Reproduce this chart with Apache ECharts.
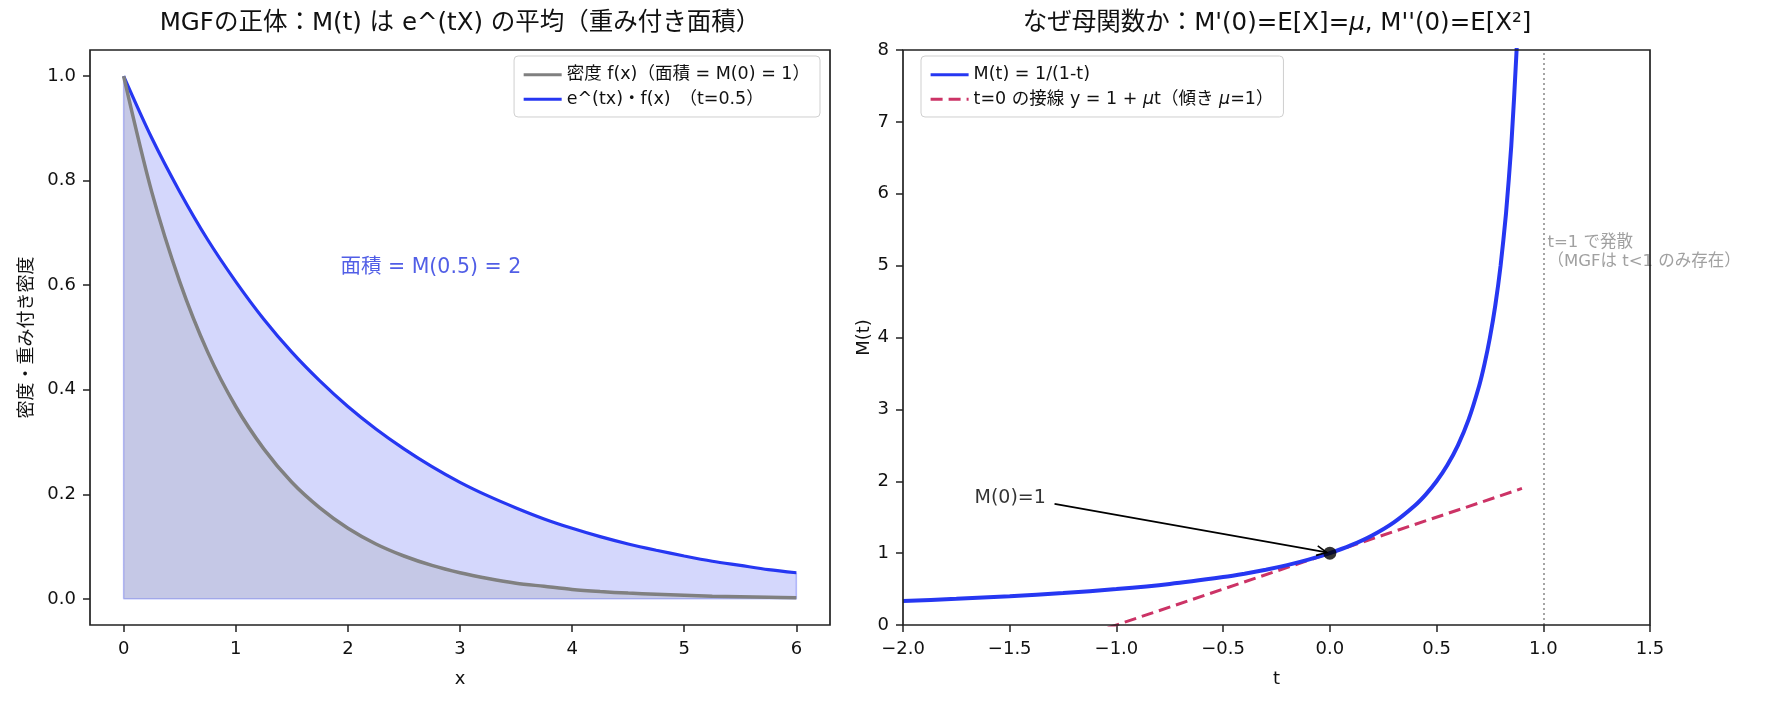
<!DOCTYPE html>
<html>
<head>
<meta charset="utf-8">
<script src="https://cdn.jsdelivr.net/npm/echarts@6/dist/echarts.min.js"></script>
<style>
html, body { margin: 0; padding: 0; background: #fff; }
#chart { width: 1769px; height: 705px; }
</style>
</head>
<body>
<div id="chart"></div>
<script>
// left panel: density f(x)=e^-x and weighted e^(tx)f(x), t=0.5
const xs = [0, 0.25, 0.5, 0.75, 1, 1.25, 1.5, 1.75, 2, 2.25, 2.5, 2.75, 3, 3.25, 3.5, 3.75, 4, 4.25, 4.5, 4.75, 5, 5.25, 5.5, 5.75, 6]
const density = [1, 0.779, 0.607, 0.472, 0.368, 0.287, 0.223, 0.174, 0.135, 0.105, 0.082, 0.064, 0.050, 0.039, 0.030, 0.024, 0.018, 0.014, 0.011, 0.009, 0.007, 0.005, 0.004, 0.003, 0.002]
const weighted = [1, 0.882, 0.779, 0.687, 0.607, 0.535, 0.472, 0.417, 0.368, 0.325, 0.287, 0.253, 0.223, 0.197, 0.174, 0.153, 0.135, 0.119, 0.105, 0.093, 0.082, 0.072, 0.064, 0.056, 0.050]
const leftXTicks = [0, 1, 2, 3, 4, 5, 6]
const leftYTicks = [0, 0.2, 0.4, 0.6, 0.8, 1.0]
const areaNote = [2.74, 0.634]

// right panel: M(t)=1/(1-t) and tangent at t=0
const ts = [-2, -1.75, -1.5, -1.25, -1, -0.75, -0.5, -0.4, -0.3, -0.2, -0.1, 0, 0.1, 0.2, 0.3, 0.4, 0.45, 0.5, 0.55, 0.6, 0.65, 0.7, 0.725, 0.75, 0.775, 0.8, 0.825, 0.85, 0.875, 0.9]
const mgf = [0.333, 0.364, 0.400, 0.444, 0.500, 0.571, 0.667, 0.714, 0.769, 0.833, 0.909, 1.000, 1.111, 1.250, 1.429, 1.667, 1.818, 2.000, 2.222, 2.500, 2.857, 3.333, 3.636, 4.000, 4.444, 5.000, 5.714, 6.667, 8.000, 10.0]
const tangentT = [-2, 0.9]
const tangentY = [-1, 1.9]
const divergeT = 1
const m0Point = [0, 1]
const m0Label = [-1.665, 1.77]
const m0Arrow = [-1.29, 1.685, -0.015, 1.01]
const divergeNote = [1.02, 5.19]

const BLUE = "#2637f2"
const GRAY = "#808080"
const RED = "#cc3366"
const FONT = "'DejaVu Sans', 'Noto Sans CJK JP', sans-serif"

const zip = (a, b) => a.map((v, i) => [v, b[i]])

const chart = echarts.init(document.getElementById("chart"))

const axisCommon = {
  axisLine: { show: false, onZero: false },
  splitLine: { show: false },
  axisTick: { show: true, inside: false, length: 7, lineStyle: { color: "#222", width: 1.5 } },
}

const legendCommon = {
  orient: "vertical", top: 56,
  padding: [10, 10, 9, 8], itemGap: 7, itemWidth: 38, itemHeight: 14,
  borderColor: "#cfcfcf", borderWidth: 1, borderRadius: 4,
  backgroundColor: "rgba(255,255,255,0.8)",
  itemStyle: { opacity: 0 },
  lineStyle: { width: 3.2 },
  formatter: (name) => name.replace(/μ/g, "{i|μ}"),
  textStyle: {
    fontSize: 17.5, color: "#111", fontFamily: FONT,
    rich: { i: { fontSize: 17.5, fontStyle: "italic", color: "#111", fontFamily: FONT } },
  },
}

const titleStyle = {
  fontSize: 24.5, fontWeight: "normal", color: "#111", fontFamily: FONT,
  rich: { i: { fontSize: 24.5, fontStyle: "italic", color: "#111", fontFamily: FONT } },
}

const option = {
  animation: false,
  textStyle: { fontFamily: FONT },
  title: [
    {
      text: "MGFの正体：M(t) は e^(tX) の平均（重み付き面積）",
      left: 460, top: 11, padding: 0, textAlign: "center",
      textStyle: titleStyle,
    },
    {
      text: "なぜ母関数か：M'(0)=E[X]={i|μ}, M''(0)=E[X²]",
      left: 1277, top: 11, padding: 0, textAlign: "center",
      textStyle: titleStyle,
    },
  ],
  legend: [
    {
      ...legendCommon,
      data: ["密度 f(x)（面積 = M(0) = 1）", "e^(tx)・f(x)　（t=0.5）"],
      right: 949,
    },
    {
      ...legendCommon,
      data: ["M(t) = 1/(1-t)", "t=0 の接線 y = 1 + μt（傾き μ=1）"],
      left: 921,
    },
  ],
  grid: [
    { left: 90, top: 50, width: 740, height: 575, show: true, borderColor: "#222", borderWidth: 1.7, backgroundColor: "transparent", z: 10 },
    { left: 903, top: 50, width: 747, height: 575, show: true, borderColor: "#222", borderWidth: 1.7, backgroundColor: "transparent", z: 10 },
  ],
  xAxis: [
    {
      ...axisCommon, type: "value", gridIndex: 0, min: -0.3, max: 6.3,
      name: "x", nameLocation: "middle", nameGap: 45,
      nameTextStyle: { fontSize: 18, color: "#111" },
      axisTick: { ...axisCommon.axisTick, customValues: leftXTicks },
      axisLabel: { customValues: leftXTicks, fontSize: 18, color: "#111", margin: 15 },
    },
    {
      ...axisCommon, type: "value", gridIndex: 1, min: -2, max: 1.5, interval: 0.5,
      name: "t", nameLocation: "middle", nameGap: 45,
      nameTextStyle: { fontSize: 18, color: "#111" },
      axisLabel: { fontSize: 18, color: "#111", margin: 15, formatter: (v) => v.toFixed(1).replace("-", "−") },
    },
  ],
  yAxis: [
    {
      ...axisCommon, type: "value", gridIndex: 0, min: -0.05, max: 1.05,
      name: "密度・重み付き密度", nameLocation: "middle", nameGap: 54, nameRotate: 90,
      nameTextStyle: { fontSize: 18, color: "#111" },
      axisTick: { ...axisCommon.axisTick, customValues: leftYTicks },
      axisLabel: { customValues: leftYTicks, fontSize: 18, color: "#111", margin: 14, formatter: (v) => v.toFixed(1) },
    },
    {
      ...axisCommon, type: "value", gridIndex: 1, min: 0, max: 8, interval: 1,
      name: "M(t)", nameLocation: "middle", nameGap: 28, nameRotate: 90,
      nameTextStyle: { fontSize: 18, color: "#111" },
      axisLabel: { fontSize: 18, color: "#111", margin: 14 },
    },
  ],
  series: [
    {
      name: "e^(tx)・f(x)　（t=0.5）",
      type: "line", xAxisIndex: 0, yAxisIndex: 0,
      data: zip(xs, weighted), symbol: "none", smooth: 0.3,
      lineStyle: { color: BLUE, width: 3.2 }, itemStyle: { color: BLUE },
      areaStyle: { color: "rgba(38,55,242,0.2)", opacity: 1 }, z: 2,
    },
    {
      name: "密度 f(x)（面積 = M(0) = 1）",
      type: "line", xAxisIndex: 0, yAxisIndex: 0,
      data: zip(xs, density), symbol: "none", smooth: 0.3,
      lineStyle: { color: GRAY, width: 3.5 }, itemStyle: { color: GRAY },
      areaStyle: { color: "rgba(128,128,128,0.18)", opacity: 1 }, z: 3,
    },
    {
      // outline of the filled region
      type: "line", xAxisIndex: 0, yAxisIndex: 0, silent: true,
      data: [[xs[0], weighted[0]], [xs[0], 0], [xs[xs.length - 1], 0], [xs[xs.length - 1], weighted[weighted.length - 1]]],
      symbol: "none", lineStyle: { color: "rgba(38,55,242,0.3)", width: 1.5 }, z: 1,
    },
    {
      type: "scatter", xAxisIndex: 0, yAxisIndex: 0, silent: true,
      data: [areaNote], symbolSize: 0,
      label: { show: true, position: "inside", formatter: "面積 = M(0.5) = 2", fontSize: 20.5, color: "#2536e0", fontFamily: FONT },
    },
    {
      name: "M(t) = 1/(1-t)",
      type: "line", xAxisIndex: 1, yAxisIndex: 1,
      data: zip(ts, mgf), symbol: "none", smooth: 0.2,
      lineStyle: { color: BLUE, width: 4 }, itemStyle: { color: BLUE }, z: 3,
      markLine: {
        silent: true, symbol: "none", label: { show: false },
        lineStyle: { color: "#888", type: [2, 3], width: 1.5 },
        data: [{ xAxis: divergeT }],
      },
    },
    {
      name: "t=0 の接線 y = 1 + μt（傾き μ=1）",
      type: "line", xAxisIndex: 1, yAxisIndex: 1,
      data: zip(tangentT, tangentY), symbol: "none",
      lineStyle: { color: RED, width: 3, type: [12, 6] }, itemStyle: { color: RED }, z: 2,
    },
    {
      type: "scatter", xAxisIndex: 1, yAxisIndex: 1, silent: true,
      data: [m0Point], symbolSize: 13, itemStyle: { color: "#000" }, z: 5,
    },
    {
      type: "scatter", xAxisIndex: 1, yAxisIndex: 1, silent: true,
      data: [m0Label], symbolSize: 0,
      label: { show: true, position: "right", distance: 0, formatter: "M(0)=1", fontSize: 19, color: "#000", fontFamily: FONT },
    },
    {
      type: "custom", xAxisIndex: 1, yAxisIndex: 1, silent: true, z: 6,
      data: [m0Arrow],
      renderItem: (params, api) => {
        const a = api.coord([api.value(0), api.value(1)])
        const b = api.coord([api.value(2), api.value(3)])
        const ang = Math.atan2(b[1] - a[1], b[0] - a[0])
        const h = 11
        const p1 = [b[0] - h * Math.cos(ang - 0.45), b[1] - h * Math.sin(ang - 0.45)]
        const p2 = [b[0] - h * Math.cos(ang + 0.45), b[1] - h * Math.sin(ang + 0.45)]
        return {
          type: "group",
          children: [
            { type: "line", shape: { x1: a[0], y1: a[1], x2: b[0], y2: b[1] }, style: { stroke: "#000", lineWidth: 1.6 } },
            { type: "polyline", shape: { points: [p1, b, p2] }, style: { stroke: "#000", lineWidth: 1.6, fill: null } },
          ],
        }
      },
    },
    {
      type: "scatter", xAxisIndex: 1, yAxisIndex: 1, silent: true,
      data: [divergeNote], symbolSize: 0,
      label: {
        show: true, position: "right", distance: 0, align: "left",
        formatter: "t=1 で発散\n（MGFは t<1 のみ存在）",
        fontSize: 16.5, lineHeight: 19, color: "#888", fontFamily: FONT,
      },
    },
  ],
}

chart.setOption(option)
</script>
</body>
</html>
